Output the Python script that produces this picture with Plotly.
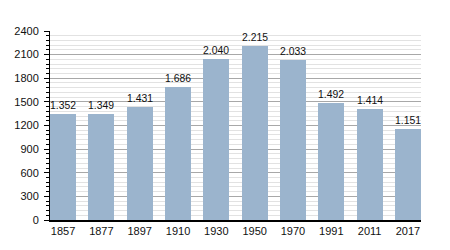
import plotly.graph_objects as go

years = ["1857", "1877", "1897", "1910", "1930", "1950", "1970", "1991", "2011", "2017"]
population = [1352, 1349, 1431, 1686, 2040, 2215, 2033, 1492, 1414, 1151]
y_ticks = [0, 300, 600, 900, 1200, 1500, 1800, 2100, 2400]

labels = [f"{v:,}".replace(",", ".") for v in population]
xpos = list(range(len(years)))

fig = go.Figure(go.Bar(
    x=xpos, y=population, width=0.68,
    marker=dict(color="#9bb4cd", line=dict(width=0)),
    text=labels, textposition="outside", cliponaxis=False,
    textfont=dict(family="Liberation Sans, Arial, sans-serif", size=11, color="#111"),
))

fig.update_layout(
    width=450, height=250,
    margin=dict(l=50, r=29, t=31, b=30),
    paper_bgcolor="white", plot_bgcolor="white",
    showlegend=False, bargap=0,
    font=dict(family="Liberation Sans, Arial, sans-serif", size=11, color="#111"),
    xaxis=dict(
        tickmode="array", tickvals=xpos, ticktext=years,
        range=[-0.34, 9.34], showgrid=False, zeroline=False,
        showline=True, linecolor="black", linewidth=1.5, ticks="", ticklen=0,
    ),
    yaxis=dict(
        range=[0, 2400], tickmode="array", tickvals=y_ticks,
        showgrid=True, gridcolor="#a8a8a8", gridwidth=1, zeroline=False,
        showline=True, linecolor="black", linewidth=1,
        ticks="outside", ticklen=5, tickcolor="black", ticklabelstandoff=3,
        minor=dict(dtick=60, showgrid=True, gridcolor="#e2e2e2", gridwidth=1,
                   ticks="outside", ticklen=3, tickcolor="black"),
    ),
)

fig.write_html("out.html")
